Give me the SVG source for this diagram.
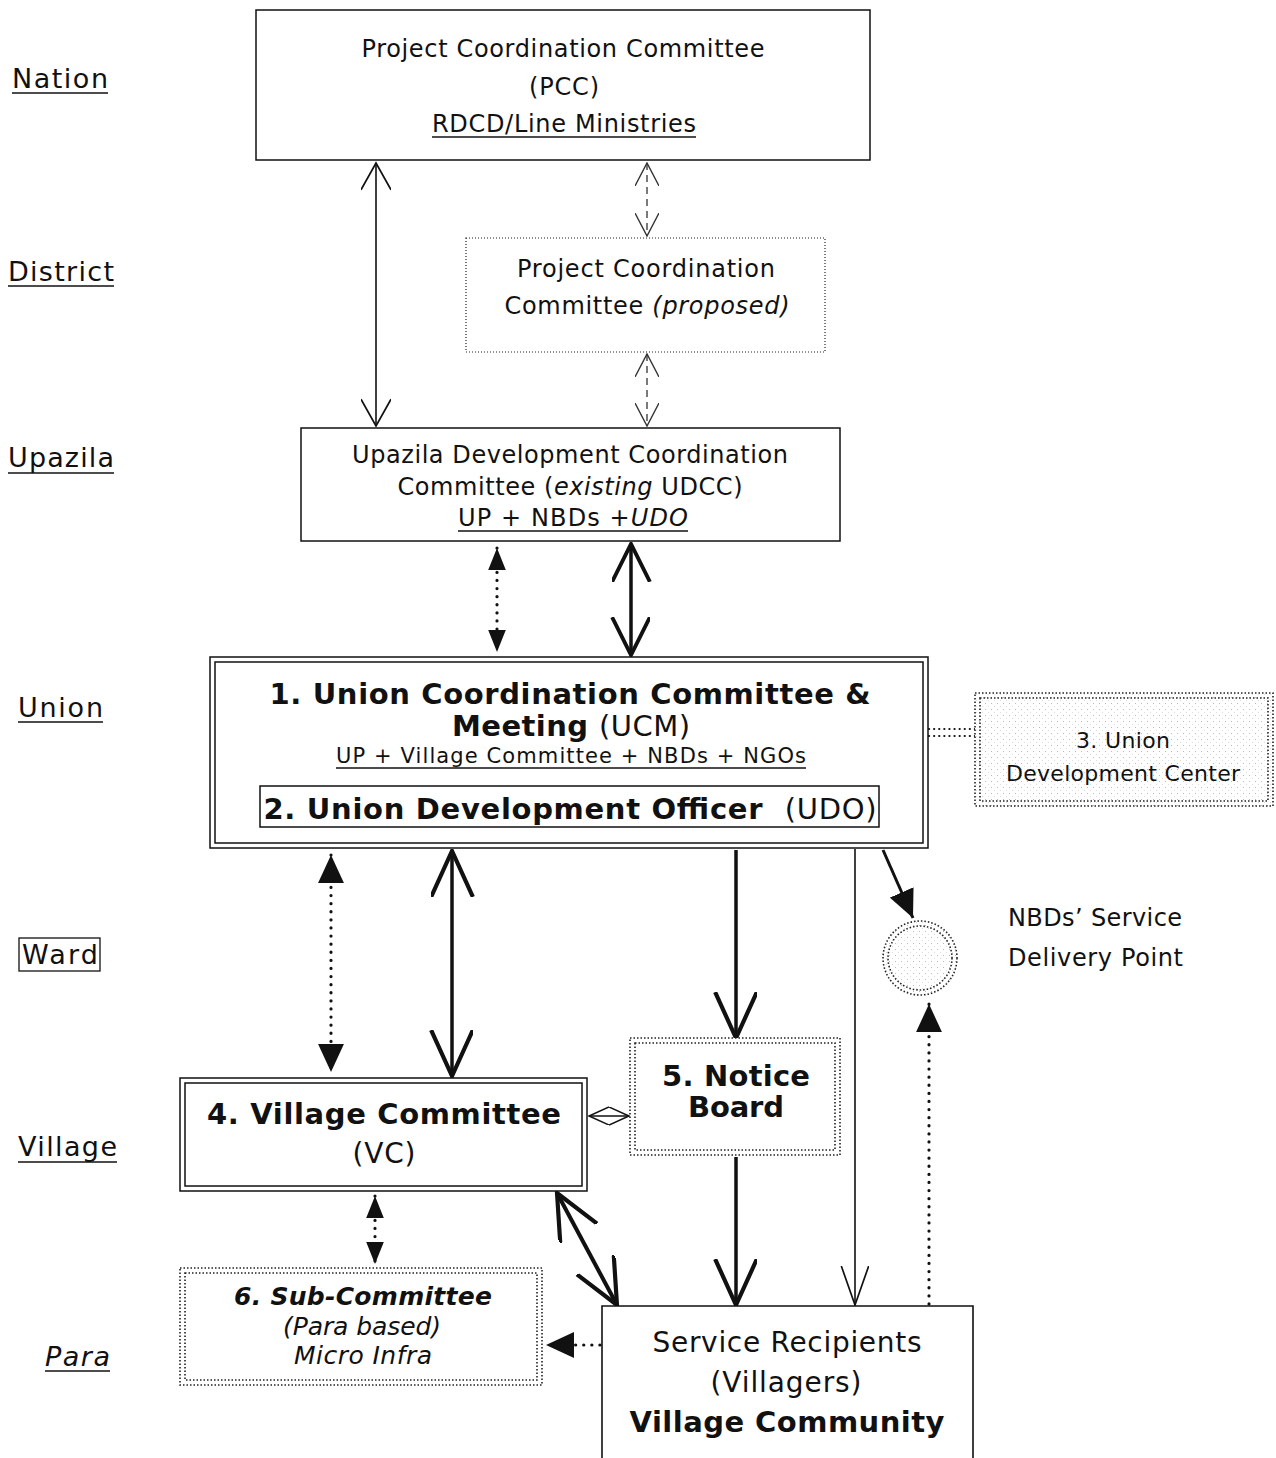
<svg xmlns="http://www.w3.org/2000/svg" width="1276" height="1458" viewBox="0 0 1276 1458">
  <defs>
    <style>
      text { font-family: "DejaVu Sans", Verdana, sans-serif; fill: #111; }
      .lvl { font-size: 27px; }
      .t24 { font-size: 24px; text-anchor: middle; }
      .t22 { font-size: 22px; text-anchor: middle; }
      .t21 { font-size: 21px; text-anchor: middle; }
      .b29 { font-size: 29px; font-weight: bold; text-anchor: middle; }
      .r28 { font-size: 28px; text-anchor: middle; }
      .sub { font-size: 25px; font-style: italic; text-anchor: middle; }
      .ul { stroke: #111; stroke-width: 1.4; }
      .box { fill: #fff; stroke: #111; stroke-width: 1.5; }
      .dotbox { fill: none; stroke: #222; stroke-width: 1.6; stroke-dasharray: 1.5 2; }
      .thin { fill: none; stroke: #111; stroke-width: 1.6; }
      .thick { fill: none; stroke: #111; stroke-width: 3.5; }
      .dash { fill: none; stroke: #333; stroke-width: 1.3; stroke-dasharray: 7 5; }
      .dots { fill: none; stroke: #111; stroke-width: 3.2; stroke-dasharray: 0.1 8; stroke-linecap: round; }
    </style>
    <!-- halftone fill used by the development center and service point -->
    <pattern id="grain" width="6" height="6" patternUnits="userSpaceOnUse">
      <rect width="6" height="6" fill="#fff"/>
      <rect x="1" y="1" width="1" height="1" fill="#bbb"/>
      <rect x="4" y="4" width="1" height="1" fill="#ddd"/>
    </pattern>
    <marker id="vThin" markerUnits="userSpaceOnUse" markerWidth="30" markerHeight="30" viewBox="0 0 26 28" refX="25" refY="14" orient="auto-start-reverse">
      <path d="M0,0 L25,14 L0,28" fill="none" stroke="#111" stroke-width="1.6"/>
    </marker>
    <marker id="vDash" markerUnits="userSpaceOnUse" markerWidth="24" markerHeight="24" viewBox="0 0 22 22" refX="21" refY="11" orient="auto-start-reverse">
      <path d="M0,0 L21,11 L0,22" fill="none" stroke="#333" stroke-width="1.3"/>
    </marker>
    <marker id="vMid" markerUnits="userSpaceOnUse" markerWidth="40" markerHeight="40" viewBox="0 0 36 36" refX="34" refY="17" orient="auto-start-reverse">
      <path d="M0,0 L34,17 L0,34" fill="none" stroke="#111" stroke-width="3.5"/>
    </marker>
    <marker id="vBig" markerUnits="userSpaceOnUse" markerWidth="48" markerHeight="44" viewBox="0 0 46 42" refX="44" refY="20" orient="auto-start-reverse">
      <path d="M0,0 L44,20 L0,40" fill="none" stroke="#111" stroke-width="4"/>
    </marker>
    <marker id="vLong" markerUnits="userSpaceOnUse" markerWidth="40" markerHeight="30" viewBox="0 0 38 28" refX="37" refY="13" orient="auto-start-reverse">
      <path d="M0,0 L37,13 L0,26" fill="none" stroke="#111" stroke-width="1.6"/>
    </marker>
    <marker id="vSmall" markerUnits="userSpaceOnUse" markerWidth="22" markerHeight="20" viewBox="0 0 22 20" refX="20" refY="9" orient="auto-start-reverse">
      <path d="M0,0 L20,9 L0,18" fill="none" stroke="#111" stroke-width="1.5"/>
    </marker>
    <marker id="triS" markerUnits="userSpaceOnUse" markerWidth="22" markerHeight="18" viewBox="0 0 20 16" refX="20" refY="8" orient="auto-start-reverse">
      <path d="M0,0 L20,8 L0,16 Z" fill="#111"/>
    </marker>
    <marker id="triL" markerUnits="userSpaceOnUse" markerWidth="28" markerHeight="26" viewBox="0 0 26 24" refX="26" refY="12" orient="auto-start-reverse">
      <path d="M0,0 L26,12 L0,24 Z" fill="#111"/>
    </marker>
  </defs>

  <!-- administrative levels -->
  <g id="levels">
    <text class="lvl" x="12" y="88" textLength="96">Nation</text>
    <line class="ul" x1="12" y1="93" x2="108" y2="93"/>
    <text class="lvl" x="8" y="281" textLength="106">District</text>
    <line class="ul" x1="8" y1="286" x2="114" y2="286"/>
    <text class="lvl" x="8" y="467" textLength="106">Upazila</text>
    <line class="ul" x1="8" y1="473" x2="114" y2="473"/>
    <text class="lvl" x="18" y="717" textLength="85">Union</text>
    <line class="ul" x1="18" y1="722" x2="103" y2="722"/>
    <rect x="19" y="938" width="81" height="33" fill="none" stroke="#111" stroke-width="1.3"/>
    <text class="lvl" x="22" y="964" textLength="76">Ward</text>
    <text class="lvl" x="18" y="1156" textLength="99">Village</text>
    <line class="ul" x1="18" y1="1162" x2="117" y2="1162"/>
    <text class="lvl" x="45" y="1366" style="font-style:italic" textLength="65">Para</text>
    <line class="ul" x1="45" y1="1371" x2="110" y2="1371"/>
  </g>

  <!-- connectors -->
  <g id="connectors">
    <line class="thin" x1="376" y1="163" x2="376" y2="426" marker-start="url(#vThin)" marker-end="url(#vThin)"/>
    <line class="dash" x1="647" y1="163" x2="647" y2="236" marker-start="url(#vDash)" marker-end="url(#vDash)"/>
    <line class="dash" x1="647" y1="354" x2="647" y2="426" marker-start="url(#vDash)" marker-end="url(#vDash)"/>
    <line class="dots" x1="497" y1="548" x2="497" y2="652" marker-start="url(#triS)" marker-end="url(#triS)"/>
    <line class="thick" x1="631" y1="544" x2="631" y2="655" marker-start="url(#vMid)" marker-end="url(#vMid)"/>
    <line class="dots" x1="929" y1="729" x2="975" y2="729" style="stroke-width:2.2;stroke-dasharray:0.1 5"/>
    <line class="dots" x1="929" y1="736" x2="975" y2="736" style="stroke-width:2.2;stroke-dasharray:0.1 5"/>
    <line class="dots" x1="331" y1="855" x2="331" y2="1072" marker-start="url(#triL)" marker-end="url(#triL)"/>
    <line class="thick" x1="452" y1="851" x2="452" y2="1076" marker-start="url(#vBig)" marker-end="url(#vBig)"/>
    <line class="thick" x1="736" y1="850" x2="736" y2="1038" marker-end="url(#vBig)"/>
    <line class="thin" x1="855" y1="849" x2="855" y2="1305" marker-end="url(#vLong)"/>
    <line class="thick" style="stroke-width:3" x1="883" y1="850" x2="913" y2="918" marker-end="url(#triL)"/>
    <line class="dots" x1="929" y1="1304" x2="929" y2="1004" marker-end="url(#triL)"/>
    <line class="thin" x1="589" y1="1116" x2="629" y2="1116" marker-start="url(#vSmall)" marker-end="url(#vSmall)"/>
    <line class="dots" x1="375" y1="1196" x2="375" y2="1264" marker-start="url(#triS)" marker-end="url(#triS)"/>
    <line class="thick" style="stroke-width:4" x1="557" y1="1193" x2="617" y2="1305" marker-start="url(#vBig)" marker-end="url(#vBig)"/>
    <line class="thick" x1="736" y1="1157" x2="736" y2="1305" marker-end="url(#vBig)"/>
    <line class="dots" x1="600" y1="1345" x2="546" y2="1345" marker-end="url(#triL)"/>
  </g>

  <!-- national committee -->
  <g id="pcc">
    <rect class="box" x="256" y="10" width="614" height="150"/>
    <text class="t24" x="563" y="57" textLength="403">Project Coordination Committee</text>
    <text class="t24" x="564" y="95" textLength="70">(PCC)</text>
    <text class="t24" x="564" y="132" textLength="264">RDCD/Line Ministries</text>
    <line class="ul" x1="432" y1="137" x2="696" y2="137"/>
  </g>

  <!-- proposed district committee -->
  <g id="district-pcc">
    <rect class="dotbox" x="466" y="238" width="359" height="114" style="stroke-width:1.2;stroke-dasharray:1 2"/>
    <text class="t24" x="646" y="277" textLength="258">Project Coordination</text>
    <text class="t24" x="647" y="314" textLength="285">Committee <tspan font-style="italic">(proposed)</tspan></text>
  </g>

  <!-- upazila committee -->
  <g id="udcc">
    <rect class="box" x="301" y="428" width="539" height="113"/>
    <text class="t24" x="570" y="463" textLength="436">Upazila Development Coordination</text>
    <text class="t24" x="570" y="495" textLength="345">Committee (<tspan font-style="italic">existing</tspan> UDCC)</text>
    <text class="t24" x="573" y="526" textLength="230">UP + NBDs +<tspan font-style="italic">UDO</tspan></text>
    <line class="ul" x1="458" y1="531" x2="688" y2="531"/>
  </g>

  <!-- 1/2. union committee and officer -->
  <g id="ucm">
    <rect class="box" x="210" y="657" width="718" height="191"/>
    <rect class="box" x="215" y="662" width="708" height="181"/>
    <text class="b29" x="570" y="704" textLength="601">1. Union Coordination Committee &amp;</text>
    <text class="b29" x="571" y="736" textLength="238">Meeting <tspan font-weight="normal">(UCM)</tspan></text>
    <text class="t21" x="571" y="763" textLength="470">UP + Village Committee + NBDs + NGOs</text>
    <line class="ul" x1="336" y1="768" x2="806" y2="768"/>
    <rect class="box" x="260" y="786" width="619" height="41"/>
    <text class="b29" x="570" y="819" textLength="613" xml:space="preserve">2. Union Development Officer  <tspan font-weight="normal">(UDO)</tspan></text>
  </g>

  <!-- 3. development center -->
  <g id="udc">
    <rect x="975" y="693" width="298" height="113" fill="url(#grain)"/>
    <rect class="dotbox" x="975" y="693" width="298" height="113"/>
    <rect class="dotbox" x="980" y="698" width="288" height="103"/>
    <text class="t22" x="1123" y="748" textLength="94">3. Union</text>
    <text class="t22" x="1123" y="781" textLength="234">Development Center</text>
  </g>

  <!-- service delivery point -->
  <g id="nbd-point">
    <circle cx="920" cy="958" r="37" fill="url(#grain)"/>
    <circle cx="920" cy="958" r="37" class="dotbox"/>
    <circle cx="920" cy="958" r="32" class="dotbox"/>
    <text x="1008" y="926" style="font-size:24px" textLength="174">NBDs’ Service</text>
    <text x="1008" y="966" style="font-size:24px" textLength="175">Delivery Point</text>
  </g>

  <!-- 4. village committee -->
  <g id="vc">
    <rect class="box" x="180" y="1078" width="407" height="113"/>
    <rect class="box" x="185" y="1083" width="397" height="103"/>
    <text class="b29" x="384" y="1124" textLength="354">4. Village Committee</text>
    <text class="r28" x="384" y="1163" textLength="63">(VC)</text>
  </g>

  <!-- 5. notice board -->
  <g id="notice">
    <rect x="630" y="1038" width="210" height="117" fill="#fff"/>
    <rect class="dotbox" x="630" y="1038" width="210" height="117"/>
    <rect class="dotbox" x="635" y="1043" width="200" height="107"/>
    <text class="b29" x="736" y="1086" textLength="148">5. Notice</text>
    <text class="b29" x="736" y="1117" textLength="96">Board</text>
  </g>

  <!-- 6. sub-committee -->
  <g id="subcommittee">
    <rect class="dotbox" x="180" y="1268" width="362" height="117"/>
    <rect class="dotbox" x="185" y="1273" width="352" height="107"/>
    <text class="sub" x="363" y="1305" font-weight="bold" textLength="258">6. Sub-Committee</text>
    <text class="sub" x="362" y="1335" textLength="158">(Para based)</text>
    <text class="sub" x="363" y="1364" textLength="138">Micro Infra</text>
  </g>

  <!-- service recipients -->
  <g id="recipients">
    <path d="M602,1458 L602,1306 L973,1306 L973,1458" fill="#fff" stroke="#111" stroke-width="1.6"/>
    <text class="r28" x="787" y="1352" textLength="269">Service Recipients</text>
    <text class="r28" x="786" y="1392" textLength="151">(Villagers)</text>
    <text class="b29" x="787" y="1432" textLength="315">Village Community</text>
  </g>
</svg>
